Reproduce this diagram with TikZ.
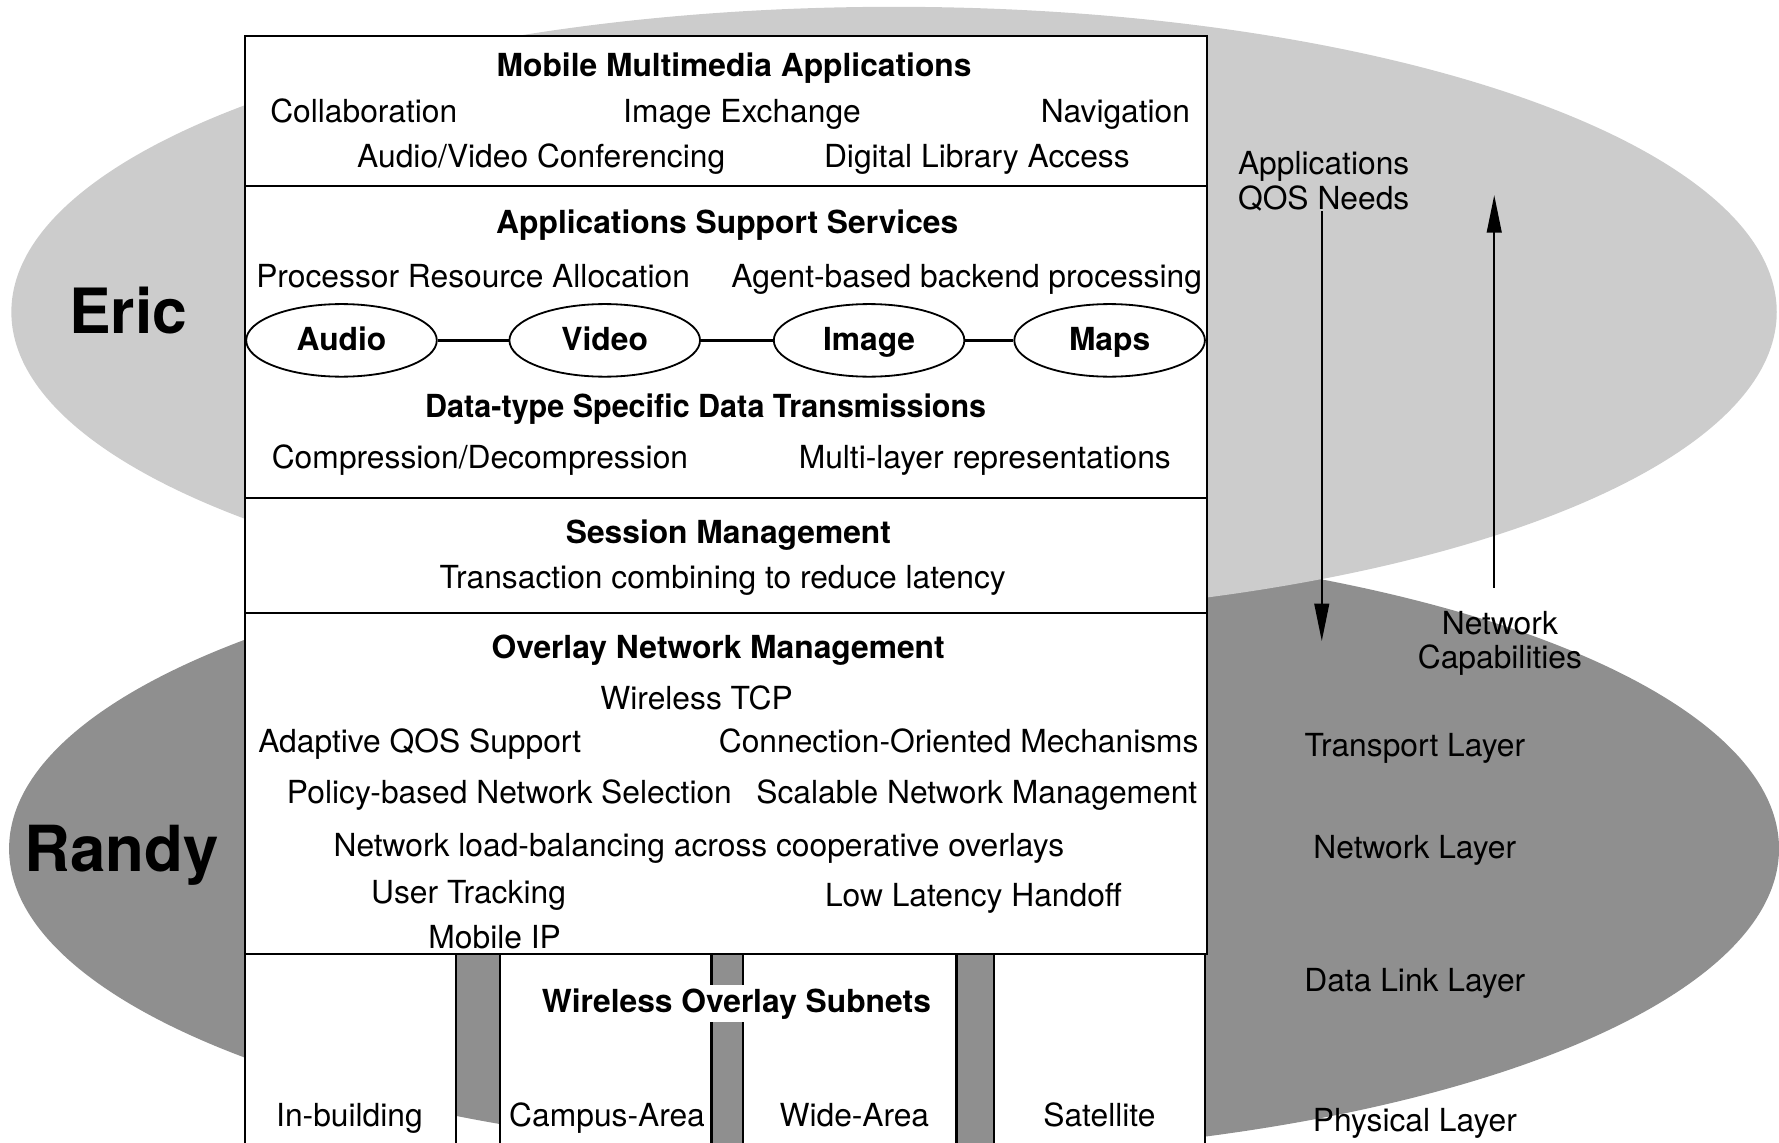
\documentclass[tikz,border=0pt]{standalone}
\usepackage{fontspec}
\setmainfont{TeX Gyre Heros}
\usetikzlibrary{arrows.meta,shapes.geometric}
\definecolor{ericgrey}{RGB}{204,204,204}
\definecolor{randygrey}{RGB}{143,143,143}
\begin{document}
\begin{tikzpicture}[x=1pt,y=-1pt,
  every node/.style={inner sep=0pt,font=\fontsize{28}{31}\selectfont},
  txt/.style={anchor=base},
  txtl/.style={anchor=base west},
  txtr/.style={anchor=base east},
  hd/.style={anchor=base,font=\fontsize{28}{31}\selectfont\bfseries},
  panel/.style={draw=black,line width=2pt,fill=white},
  dtype/.style={ellipse,draw=black,line width=1.6pt,fill=white,
    minimum width=168pt,minimum height=64pt,text height=22pt,text depth=5pt,
    font=\fontsize{28}{31}\selectfont\bfseries},
  link/.style={line width=2pt},
  flow/.style={line width=1.6pt,-{Triangle[length=33pt,width=13pt]}},
  who/.style={anchor=base,font=\fontsize{55}{60}\selectfont\bfseries},
]
\useasboundingbox (0,0) rectangle (1568,1007);
\clip (0,0) rectangle (1568,1007);

% the two halves of the architecture
\fill[randygrey] (788,748) ellipse [x radius=780, y radius=271];
\fill[ericgrey] (788,275) ellipse [x radius=778, y radius=269];

\node[who] (eric) at (113,294) {Eric};
\node[who,font=\fontsize{56}{60}\selectfont\bfseries] (randy) at (107,768) {Randy};

% layered stack
\draw[panel] (216,32) rectangle (1064,164);
\draw[panel] (216,164) rectangle (1064,439);
\draw[panel] (216,439) rectangle (1064,540);
\draw[panel] (216,540) rectangle (1064,841);

% subnet columns
\draw[panel] (216,841) rectangle (402,1040);
\draw[panel] (441,841) rectangle (627,1040);
\draw[panel] (655,841) rectangle (843,1040);
\draw[panel] (876,841) rectangle (1062,1040);
\draw[line width=2pt] (216,841) -- (1064,841);

% Mobile Multimedia Applications
\node[hd] (mma) at (647,67) {Mobile Multimedia Applications};
\node[txtl] (collab) at (238,108) {Collaboration};
\node[txt] (imgx) at (654,108) {Image Exchange};
\node[txtr] (navi) at (1049,108) {Navigation};
\node[txt] (avconf) at (477,148) {Audio/Video Conferencing};
\node[txt] (diglib) at (861,148) {Digital Library Access};

% Applications Support Services
\node[hd] (ass) at (641,206) {Applications Support Services};
\node[txt] (proc) at (417,253) {Processor Resource Allocation};
\node[txt] (agent) at (852,253) {Agent-based backend processing};
\node[dtype] (audio) at (301,300) {Audio};
\node[dtype] (video) at (533,300) {Video};
\node[dtype] (image) at (766,300) {Image};
\node[dtype] (maps) at (978,300) {Maps};
\draw[link] (audio) -- (video);
\draw[link] (video) -- (image);
\draw[link] (image) -- (maps);
\node[hd,xscale=0.96] (dtsdt) at (622,368) {Data-type Specific Data Transmissions};
\node[txt] (compr) at (423,413) {Compression/Decompression};
\node[txt] (multi) at (868,413) {Multi-layer representations};

% Session Management
\node[hd] (sess) at (642,479) {Session Management};
\node[txt] (trans) at (637,519) {Transaction combining to reduce latency};

% Overlay Network Management
\node[hd] (onm) at (633,580) {Overlay Network Management};
\node[txt] (wtcp) at (614,625) {Wireless TCP};
\node[txt] (aqos) at (370,663) {Adaptive QOS Support};
\node[txt] (conn) at (845,663) {Connection-Oriented Mechanisms};
\node[txt] (policy) at (449,708) {Policy-based Network Selection};
\node[txt] (scal) at (861,708) {Scalable Network Management};
\node[txt] (nlb) at (616,755) {Network load-balancing across cooperative overlays};
\node[txt] (utrack) at (413,796) {User Tracking};
\node[txt] (llh) at (858,799) {Low Latency Handoff};
\node[txt] (mip) at (436,836) {Mobile IP};

% Wireless Overlay Subnets
\node[hd,fill=white,inner sep=3pt] (wos) at (649,892) {Wireless Overlay Subnets};
\node[txt] (inb) at (308,993) {In-building};
\node[txt] (camp) at (535,993) {Campus-Area};
\node[txt] (wide) at (753,993) {Wide-Area};
\node[txt] (sat) at (969,993) {Satellite};

% requirements flowing down, capabilities flowing up
\node[txtl] (qos1) at (1091,154) {Applications};
\node[txtl] (qos2) at (1091,185) {QOS Needs};
\node[txt] (cap1) at (1322,559) {Network};
\node[txt] (cap2) at (1322,589) {Capabilities};
\coordinate (dtop) at (1165,186);
\coordinate (dbot) at (1165,565);
\coordinate (ubot) at (1317,518);
\coordinate (utop) at (1317,172);
\draw[flow] (dtop) -- (dbot);
\draw[flow] (ubot) -- (utop);

% protocol layers
\node[txt] (tl) at (1247,667) {Transport Layer};
\node[txt] (nl) at (1247,757) {Network Layer};
\node[txt] (dl) at (1247,874) {Data Link Layer};
\node[txt] (pl) at (1247,997) {Physical Layer};
\end{tikzpicture}
\end{document}
